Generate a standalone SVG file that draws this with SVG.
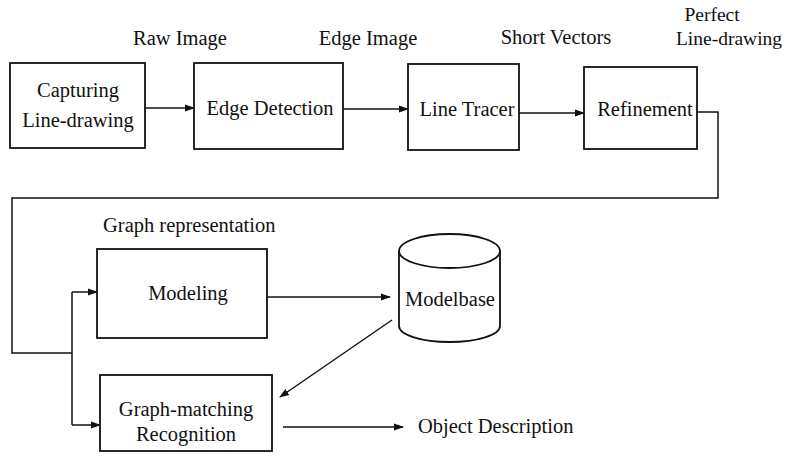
<svg xmlns="http://www.w3.org/2000/svg" width="786" height="462" viewBox="0 0 786 462">
  <style>
    .box { fill: #fff; stroke: #111; stroke-width: 1.8; }
    .wire { fill: none; stroke: #111; stroke-width: 1.5; }
    .t { font-family: "Liberation Serif", "Times New Roman", serif; font-size: 20.5px; fill: #111; }
    .s { font-size: 19.5px; }
    .c { text-anchor: middle; }
  </style>
  <defs>
    <marker id="arr" markerWidth="10" markerHeight="8" refX="9" refY="4" orient="auto" markerUnits="userSpaceOnUse">
      <path d="M0,0.5 L10,4 L0,7.5 Z" fill="#111"/>
    </marker>
  </defs>

  <rect width="786" height="462" fill="#fff"/>

  <!-- stage labels -->
  <g id="labels">
    <text class="t c" x="180" y="45">Raw Image</text>
    <text class="t c" x="368" y="45">Edge Image</text>
    <text class="t c" x="556" y="44">Short Vectors</text>
    <text class="t s c" x="712" y="21">Perfect</text>
    <text class="t s c" x="729" y="45">Line-drawing</text>
    <text class="t" x="103" y="232">Graph representation</text>
  </g>

  <!-- connectors -->
  <g id="connectors">
    <line class="wire" x1="145" y1="108" x2="194" y2="108" marker-end="url(#arr)"/>
    <line class="wire" x1="343" y1="109" x2="408" y2="109" marker-end="url(#arr)"/>
    <line class="wire" x1="519" y1="113" x2="584" y2="113" marker-end="url(#arr)"/>
    <path class="wire" d="M697,112 H718 V198 H12 V353 H72"/>
    <path class="wire" d="M72,292 V425"/>
    <line class="wire" x1="72" y1="292" x2="97" y2="292" marker-end="url(#arr)"/>
    <line class="wire" x1="72" y1="425" x2="100" y2="425" marker-end="url(#arr)"/>
    <line class="wire" x1="267" y1="297" x2="390" y2="297" marker-end="url(#arr)"/>
    <line class="wire" x1="392" y1="320" x2="280" y2="397" marker-end="url(#arr)"/>
    <line class="wire" x1="283" y1="427" x2="403" y2="427" marker-end="url(#arr)"/>
  </g>

  <g id="capturing">
    <rect class="box" x="10" y="63" width="135" height="85"/>
    <text class="t c" x="78" y="97">Capturing</text>
    <text class="t c" x="78" y="127">Line-drawing</text>
  </g>

  <g id="edge-detection">
    <rect class="box" x="194" y="63" width="149" height="86"/>
    <text class="t c" x="270" y="115">Edge Detection</text>
  </g>

  <g id="line-tracer">
    <rect class="box" x="408" y="64" width="111" height="86"/>
    <text class="t c" x="467" y="116">Line Tracer</text>
  </g>

  <g id="refinement">
    <rect class="box" x="584" y="67" width="113" height="82"/>
    <text class="t c" x="645" y="116">Refinement</text>
  </g>

  <g id="modeling">
    <rect class="box" x="97" y="249" width="170" height="89"/>
    <text class="t c" x="188" y="300">Modeling</text>
  </g>

  <g id="modelbase">
    <path class="box" d="M399,251 V326 A50.5,16 0 0 0 500,326 V251"/>
    <ellipse class="box" cx="449.5" cy="251" rx="50.5" ry="17"/>
    <text class="t c" x="450" y="306">Modelbase</text>
  </g>

  <g id="graph-matching">
    <rect class="box" x="100" y="375" width="172" height="76"/>
    <text class="t c" x="186" y="416">Graph-matching</text>
    <text class="t c" x="186" y="441">Recognition</text>
  </g>

  <g id="object-description">
    <text class="t" x="418" y="433">Object Description</text>
  </g>
</svg>
